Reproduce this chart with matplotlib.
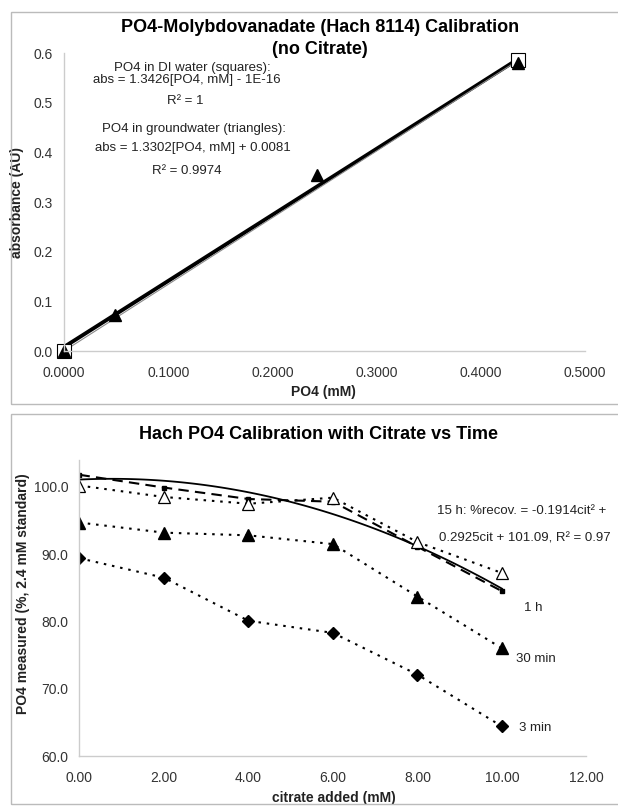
import numpy as np
import matplotlib
matplotlib.use("Agg")
import matplotlib.pyplot as plt
from matplotlib.patches import Rectangle
from matplotlib.ticker import FormatStrFormatter

plt.rcParams["font.family"] = ["Liberation Sans", "DejaVu Sans"]

# top chart: PO4 calibration, no citrate
di_po4 = [0.0, 0.4357]
di_abs = [0.0, 0.585]
gw_po4 = [0.0, 0.049, 0.243, 0.436]
gw_abs = [0.0, 0.072, 0.354, 0.580]
di_fit = [1.3426, 0.0]
gw_fit = [1.3302, 0.0081]

# bottom chart: recovery with citrate vs time
citrate = [0, 2, 4, 6, 8, 10]
rec_3min = [89.4, 86.5, 80.1, 78.3, 72.1, 64.4]
rec_30min = [94.7, 93.2, 92.8, 91.5, 83.7, 76.0]
rec_1h = [101.8, 99.9, 98.2, 97.8, 91.1, 84.5]
rec_15h = [100.2, 98.5, 97.5, 98.4, 91.8, 87.2]
fit_15h = [-0.1914, 0.2925, 101.09]

SPINE = "#cccccc"
TICK = "#333333"
DOT = (0, (1.2, 2.8))
DASH = (0, (5, 3))


def style_axes(ax):
    for s in ["top", "right"]:
        ax.spines[s].set_visible(False)
    for s in ["left", "bottom"]:
        ax.spines[s].set_color(SPINE)
        ax.spines[s].set_linewidth(1.0)
    ax.tick_params(length=0, labelsize=10, colors=TICK)
    ax.tick_params(axis="y", pad=8)
    ax.tick_params(axis="x", pad=11)


fig = plt.figure(figsize=(6.18, 8.06), dpi=100)

# panel frames
for y0, y1 in [(0.4988, 0.9851), (0.0025, 0.4864)]:
    fig.add_artist(Rectangle((0.0178, y0), 1.0, y1 - y0, transform=fig.transFigure,
                             fill=False, edgecolor="#bbbbbb", linewidth=1.0))

# ---- top chart
ax1 = fig.add_axes([0.1036, 0.5645, 0.843, 0.3697])
style_axes(ax1)
xs = np.linspace(0, max(gw_po4), 50)
ax1.plot(xs, np.polyval(gw_fit, xs), color="black", lw=2.8, solid_capstyle="butt")
ax1.plot(xs, np.polyval(di_fit, xs), color="#8a8a8a", lw=0.8)
ax1.plot(di_po4, di_abs, "s", ms=10, mfc="white", mec="black", mew=0.8, clip_on=False)
ax1.plot(gw_po4, gw_abs, "^", ms=8.5, color="black", clip_on=False)
ax1.set_xlim(0, 0.5)
ax1.set_ylim(0, 0.6)
ax1.set_xticks(np.arange(0, 0.51, 0.1))
ax1.set_yticks(np.arange(0, 0.61, 0.1))
ax1.xaxis.set_major_formatter(FormatStrFormatter("%.4f"))
ax1.yaxis.set_major_formatter(FormatStrFormatter("%.1f"))
ax1.set_xlabel("PO4 (mM)", fontsize=10, fontweight="bold", color="#222222")
ax1.set_ylabel("absorbance (AU)", fontsize=10, fontweight="bold", color="#222222")
ax1.xaxis.set_label_coords(0.497, -0.115)
ax1.yaxis.set_label_coords(-0.077, 0.5)

top_notes = [
    (0.123, 0.570, "PO4 in DI water (squares):"),
    (0.118, 0.546, "abs = 1.3426[PO4, mM] - 1E-16"),
    (0.116, 0.503, "R² = 1"),
    (0.125, 0.447, "PO4 in groundwater (triangles):"),
    (0.124, 0.408, "abs = 1.3302[PO4, mM] + 0.0081"),
    (0.118, 0.362, "R² = 0.9974"),
]
for x, y, t in top_notes:
    ax1.text(x, y, t, ha="center", va="center", fontsize=9.5, color="#222222")

fig.text(0.518, 0.9525, "PO4-Molybdovanadate (Hach 8114) Calibration\n(no Citrate)",
         ha="center", va="center", fontsize=13, fontweight="bold", linespacing=1.4)

# ---- bottom chart
ax2 = fig.add_axes([0.1286, 0.062, 0.8204, 0.3673])
style_axes(ax2)
cx = np.linspace(0, 10, 100)
ax2.plot(cx, np.polyval(fit_15h, cx), color="black", lw=1.3)
ax2.plot(citrate, rec_1h, color="black", lw=1.5, ls=DASH, marker="s", ms=3.5)
ax2.plot(citrate, rec_15h, color="black", lw=1.5, ls=DOT, marker="^", ms=9,
         mfc="white", mec="black", mew=0.9)
ax2.plot(citrate, rec_30min, color="black", lw=1.5, ls=DOT, marker="^", ms=8.5)
ax2.plot(citrate, rec_3min, color="black", lw=1.5, ls=DOT, marker="D", ms=6.5)
ax2.set_xlim(0, 12)
ax2.set_ylim(60, 104)
ax2.set_xticks(np.arange(0, 12.1, 2))
ax2.set_yticks(np.arange(60, 100.1, 10))
ax2.xaxis.set_major_formatter(FormatStrFormatter("%.2f"))
ax2.yaxis.set_major_formatter(FormatStrFormatter("%.1f"))
ax2.set_xlabel("citrate added (mM)", fontsize=10, fontweight="bold", color="#222222")
ax2.set_ylabel("PO4 measured (%, 2.4 mM standard)", fontsize=10, fontweight="bold",
               color="#222222")
ax2.xaxis.set_label_coords(0.502, -0.118)
ax2.yaxis.set_label_coords(-0.098, 0.547)

ax2.text(8.46, 96.4, "15 h: %recov. = -0.1914cit² +", ha="left", va="center",
         fontsize=9.5, color="#222222", clip_on=False)
ax2.text(8.51, 92.3, "0.2925cit + 101.09, R² = 0.97", ha="left", va="center",
         fontsize=9.5, color="#222222", clip_on=False)
ax2.text(10.52, 82.0, "1 h", ha="left", va="center", fontsize=9.5, color="#222222")
ax2.text(10.32, 74.4, "30 min", ha="left", va="center", fontsize=9.5, color="#222222")
ax2.text(10.40, 64.2, "3 min", ha="left", va="center", fontsize=9.5, color="#222222")

fig.text(0.516, 0.4603, "Hach PO4 Calibration with Citrate vs Time",
         ha="center", va="center", fontsize=13, fontweight="bold")

fig.savefig("out.png", dpi=100)
